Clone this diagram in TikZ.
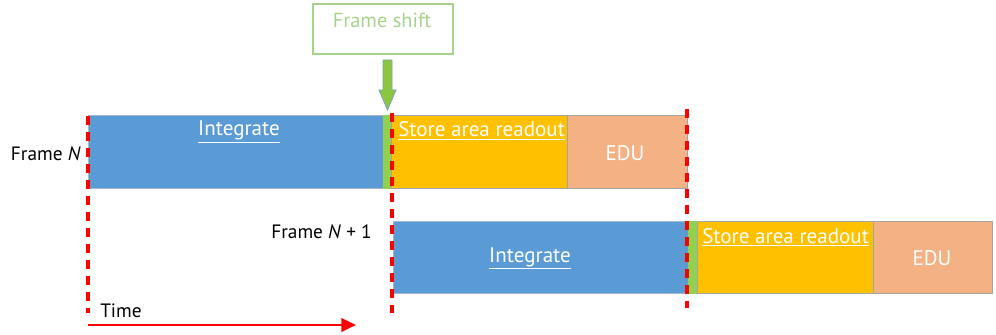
\documentclass[tikz,border=0pt]{standalone}
\usepackage{fontspec}
\setmainfont{PT Sans}
\usetikzlibrary{arrows.meta,fit}
\definecolor{blueC}{HTML}{5B9BD5}
\definecolor{greenC}{HTML}{92D050}
\definecolor{yellowC}{HTML}{FFC000}
\definecolor{orangeC}{HTML}{F4B183}
\definecolor{lightG}{HTML}{A9D18E}
\definecolor{arrowG}{HTML}{8CC63F}
\definecolor{arrowEdge}{HTML}{7F9FBF}
\definecolor{blueEdge}{HTML}{A4B8D4}
\definecolor{grayEdge}{HTML}{A5A5A5}
\begin{document}
\begin{tikzpicture}[x=0.75pt,y=-0.75pt,
  bar/.style={inner sep=0pt, outer sep=0pt, draw=grayEdge, line width=0.6pt},
  bluebar/.style={bar, fill=blueC, draw=blueEdge},
  greenbar/.style={bar, fill=greenC, draw=greenC},
  yellowbar/.style={bar, fill=yellowC},
  orangebar/.style={bar, fill=orangeC},
  lbl/.style={text=white, font=\fontsize{15.8}{18}\selectfont, inner sep=0pt},
  ulbl/.style={lbl},
  side/.style={font=\fontsize{14.5}{17}\selectfont, inner sep=0pt},
  marker/.style={draw=red, line width=2.4pt, dash pattern=on 7pt off 5pt},
]
\useasboundingbox (0,0) rectangle (996,335);

% Row 1
\node[bluebar, fit={(88,115) (383,188)}] (i1) {};
\node[greenbar, fit={(383,115) (391,188)}] (g1) {};
\node[yellowbar, fit={(391,115) (567,188)}] (s1) {};
\node[orangebar, fit={(567,115) (687,188)}] (e1) {};

% Row 2
\node[bluebar, fit={(393,221) (688,293)}] (i2) {};
\node[greenbar, fit={(688,221) (697,293)}] (g2) {};
\node[yellowbar, fit={(697,221) (873,293)}] (s2) {};
\node[orangebar, fit={(873,221) (992,293)}] (e2) {};

% Labels in bars
\node[ulbl, anchor=base] (ti1) at (239,136) {\underline{Integrate}};
\node[ulbl, anchor=base west] (ts1) at (398,137) {\underline{Store area readout}};
\node[lbl] (te1) at (625,153) {EDU};
\node[ulbl, anchor=base] (ti2) at (530,262) {\underline{Integrate}};
\node[ulbl, anchor=base west] (ts2) at (702,243) {\underline{Store area readout}};
\node[lbl] (te2) at (932,258) {EDU};

% Side labels
\node[side, anchor=base east] (fn) at (81,161) {Frame \textit{N}};
\node[side, anchor=base east] (fn1) at (372,238) {Frame \textit{N} + 1};

% Frame shift box
\node[draw=lightG, line width=1.3pt, fit={(313,4) (453,54)}, inner sep=0pt] (fs) {};
\node[font=\fontsize{15.3}{18}\selectfont, text=lightG, inner sep=0pt] (fst) at (382,20) {Frame shift};

% Frame shift arrow
\coordinate (tip) at (387.5,110);
\draw[fill=arrowG, draw=arrowEdge, line width=0.6pt]
  (383,60) -- (392,60) -- (392,90) -- (396,90) -- (tip) -- (379,90) -- (383,90) -- cycle;

% Red dashed markers
\coordinate (m1t) at (88,116); \coordinate (m1b) at (88,313);
\coordinate (m2t) at (392,113); \coordinate (m2b) at (392,313);
\coordinate (m3t) at (687,109); \coordinate (m3b) at (687,308);
\draw[marker] (m1t) -- (m1b);
\draw[marker] (m2t) -- (m2b);
\draw[marker] (m3t) -- (m3b);

% Time arrow
\coordinate (ts) at (88,325);
\coordinate (te) at (356,325);
\draw[red, line width=2.2pt, -{Triangle[length=11pt,width=10pt]}] (ts) -- (te);
\node[side, anchor=base west] (time) at (100,317) {Time};
\end{tikzpicture}
\end{document}
